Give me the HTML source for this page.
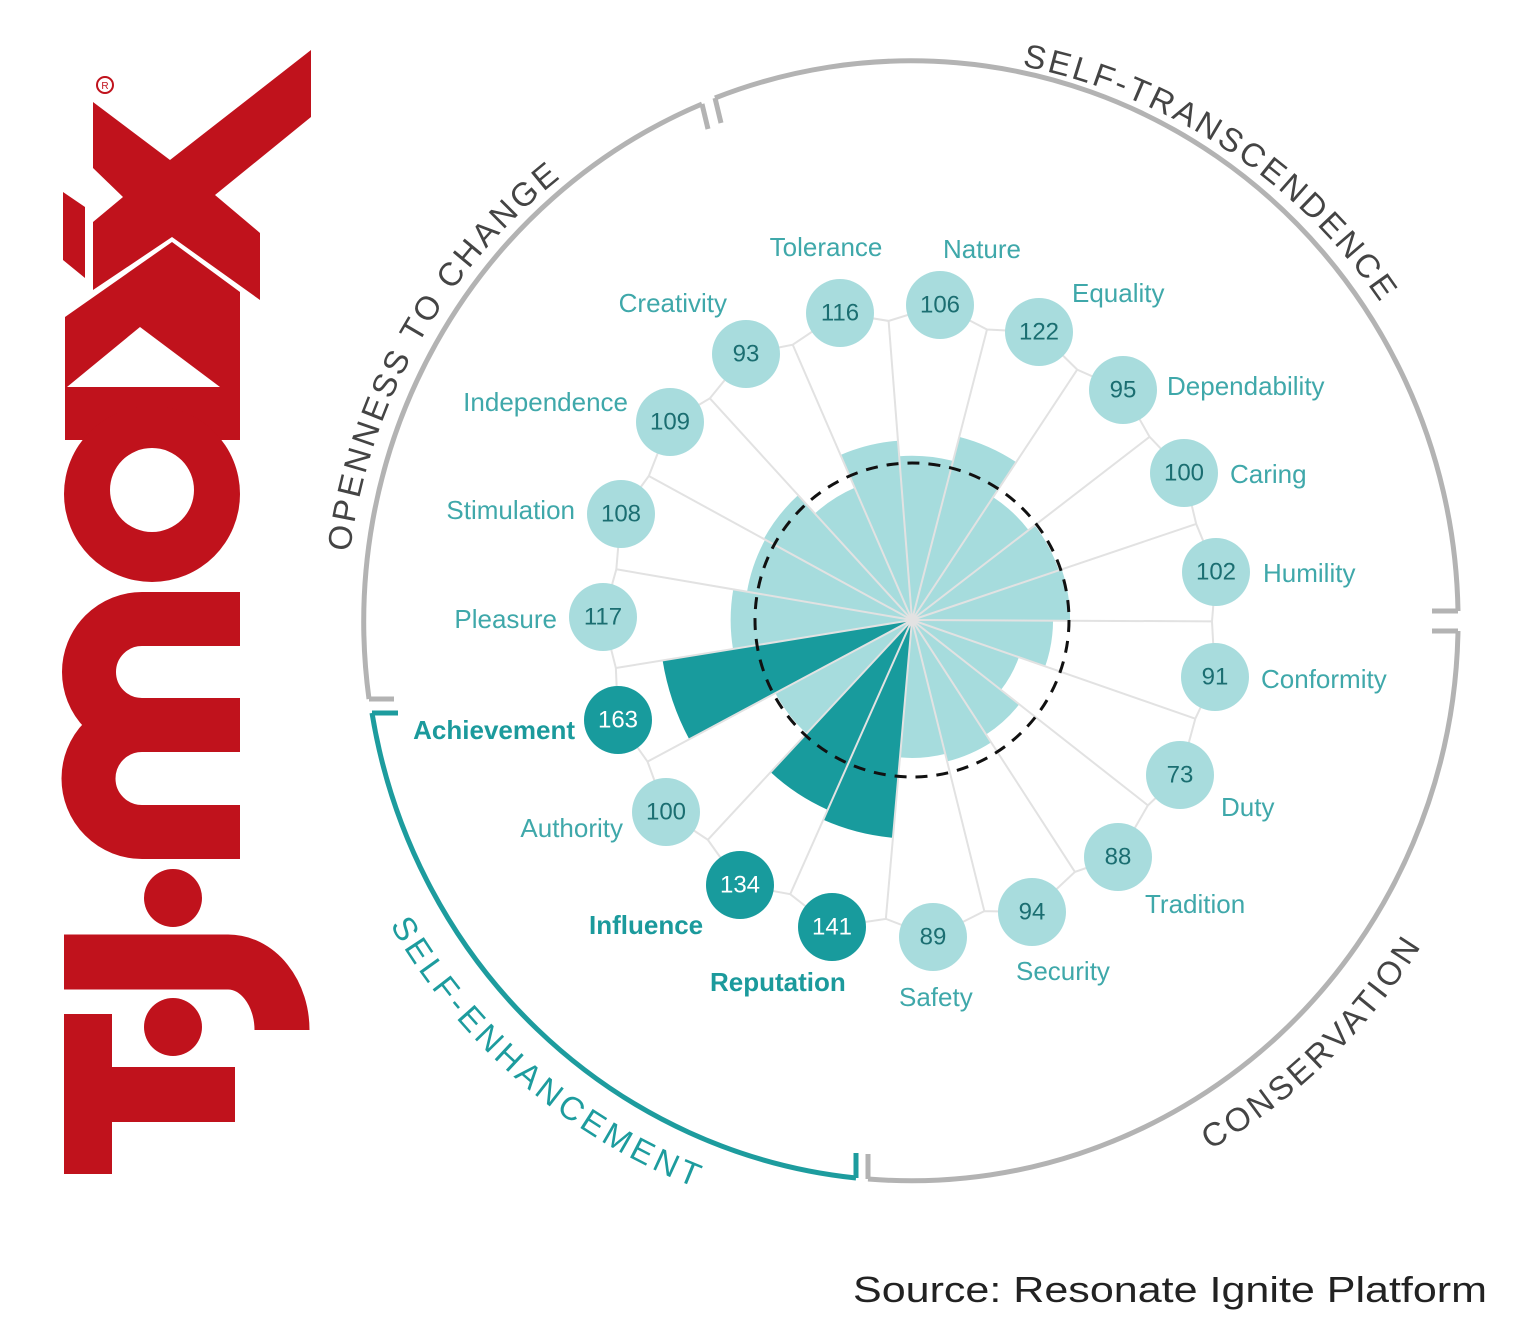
<!DOCTYPE html>
<html><head><meta charset="utf-8"><style>
html,body{margin:0;padding:0;background:#fff;}
svg{display:block;}
.lb{font-family:"Liberation Sans",sans-serif;font-size:26px;fill:#3fa8aa;dominant-baseline:central;}
.lbd{font-family:"Liberation Sans",sans-serif;font-size:26px;font-weight:bold;fill:#1b9a9c;dominant-baseline:central;}
.cat{font-family:"Liberation Sans",sans-serif;font-size:33px;fill:#444;}
.num{font-family:"Liberation Sans",sans-serif;font-size:24px;dominant-baseline:central;text-anchor:middle;}
</style></head><body>
<svg id="s" width="1529" height="1335" viewBox="0 0 1529 1335" xmlns="http://www.w3.org/2000/svg">
<rect width="1529" height="1335" fill="#fff"/>
<g fill="#c0121c">
<polygon points="93,102 170,160 311,50 311,117 215,195 260,233 260,300 172,237 93,290 93,222 123,197 93,168"/>
<polygon points="63,192 85,207 85,278 63,260"/>
<polygon points="65,317 172,242 240,292 240,440 65,440"/>
<circle cx="152" cy="494" r="88"/>
<path d="M240 619 H142 A53 53 0 0 0 142 725 H240 M240 725 H142 A53 53 0 0 0 142 832 H240" fill="none" stroke="#c0121c" stroke-width="54"/>
<circle cx="173" cy="898" r="29"/>
<path d="M64 962 H228 A54 68 0 0 1 282 1030" fill="none" stroke="#c0121c" stroke-width="55"/>
<circle cx="173" cy="1027" r="29"/>
<rect x="64" y="1014" width="48" height="160"/>
<rect x="110" y="1067" width="125" height="55"/>
</g>
<polygon points="67,387 140,327 220,387" fill="#fff"/>
<circle cx="152" cy="490" r="42" fill="#fff"/>
<circle cx="105" cy="85" r="8" fill="none" stroke="#c0121c" stroke-width="2"/>
<text x="105" y="89" font-family="Liberation Sans,sans-serif" font-size="10" fill="#c0121c" text-anchor="middle">R</text>

<g fill="none" stroke="#b3b3b3" stroke-width="5">
<path d="M369 699 A547 560 0 0 1 702 104"/>
<path d="M715 98 A547 560 0 0 1 1458 611"/>
<path d="M1458 631 A547 560 0 0 1 868 1179"/>
<path d="M702 104 L708 129"/><path d="M715 98 L721 123"/>
<path d="M1458 611 L1432 611"/><path d="M1458 631 L1432 631"/>
<path d="M868 1179 L868 1154"/>
<path d="M369 699 L394 699"/>
</g>
<g fill="none" stroke="#1d9c9e" stroke-width="5">
<path d="M372 713 A547 560 0 0 0 856 1178"/>
<path d="M372 713 L398 713"/><path d="M856 1178 L856 1153"/>
</g>
<defs>
<path id="p1" d="M350 552 A565 565 0 0 1 571 170"/>
<path id="p2" d="M1022 66 A566 566 0 0 1 1382 305"/>
<path id="p3" d="M1210 1150 A605 605 0 0 0 1425 940"/>
<path id="p4" d="M390 925 A605 605 0 0 0 702 1190"/>
</defs>
<text class="cat"><textPath href="#p1" textLength="440" lengthAdjust="spacing">OPENNESS TO CHANGE</textPath></text>
<text class="cat"><textPath href="#p2" textLength="440" lengthAdjust="spacing">SELF-TRANSCENDENCE</textPath></text>
<text class="cat"><textPath href="#p3" textLength="296" lengthAdjust="spacing">CONSERVATION</textPath></text>
<text class="cat" style="fill:#1d9c9e"><textPath href="#p4" textLength="410" lengthAdjust="spacing">SELF-ENHANCEMENT</textPath></text>

<g id="chart"></g>
<circle cx="912" cy="620" r="157" fill="none" stroke="#111" stroke-width="3" stroke-dasharray="12 9"/>
<g id="circles"></g>

<text class="lb" x="826" y="247" text-anchor="middle">Tolerance</text>
<text class="lb" x="982" y="249" text-anchor="middle">Nature</text>
<text class="lb" x="1072" y="293">Equality</text>
<text class="lb" x="1167" y="386">Dependability</text>
<text class="lb" x="1230" y="474">Caring</text>
<text class="lb" x="1263" y="573">Humility</text>
<text class="lb" x="1261" y="679">Conformity</text>
<text class="lb" x="1221" y="807">Duty</text>
<text class="lb" x="1145" y="904">Tradition</text>
<text class="lb" x="1016" y="971">Security</text>
<text class="lb" x="899" y="997">Safety</text>
<text class="lbd" x="710" y="982">Reputation</text>
<text class="lbd" x="589" y="925">Influence</text>
<text class="lb" x="623" y="828" text-anchor="end">Authority</text>
<text class="lbd" x="575" y="730" text-anchor="end">Achievement</text>
<text class="lb" x="557" y="619" text-anchor="end">Pleasure</text>
<text class="lb" x="575" y="510" text-anchor="end">Stimulation</text>
<text class="lb" x="628" y="402" text-anchor="end">Independence</text>
<text class="lb" x="727" y="303" text-anchor="end">Creativity</text>

<g id="nums">
<text class="num" x="940" y="305" fill="#1b6e71">106</text>
<text class="num" x="1039" y="332" fill="#1b6e71">122</text>
<text class="num" x="1123" y="390" fill="#1b6e71">95</text>
<text class="num" x="1184" y="473" fill="#1b6e71">100</text>
<text class="num" x="1216" y="572" fill="#1b6e71">102</text>
<text class="num" x="1215" y="677" fill="#1b6e71">91</text>
<text class="num" x="1180" y="775" fill="#1b6e71">73</text>
<text class="num" x="1118" y="857" fill="#1b6e71">88</text>
<text class="num" x="1032" y="912" fill="#1b6e71">94</text>
<text class="num" x="933" y="937" fill="#1b6e71">89</text>
<text class="num" x="832" y="927" fill="#fff">141</text>
<text class="num" x="740" y="885" fill="#fff">134</text>
<text class="num" x="666" y="812" fill="#1b6e71">100</text>
<text class="num" x="618" y="720" fill="#fff">163</text>
<text class="num" x="603" y="617" fill="#1b6e71">117</text>
<text class="num" x="621" y="514" fill="#1b6e71">108</text>
<text class="num" x="670" y="422" fill="#1b6e71">109</text>
<text class="num" x="746" y="354" fill="#1b6e71">93</text>
<text class="num" x="840" y="313" fill="#1b6e71">116</text>
</g>

<text x="853" y="1302" font-family="Liberation Sans,sans-serif" font-size="36" fill="#222" textLength="634" lengthAdjust="spacingAndGlyphs">Source: Resonate Ignite Platform</text>
</svg>
<script>
(function(){
var NS="http://www.w3.org/2000/svg";
var cx=912,cy=620;
var vals=[106,122,95,100,102,91,73,88,94,89,141,134,100,163,117,108,109,93,116];
var dark=[10,11,13];
var pos=[[940,305],[1039,332],[1123,390],[1184,473],[1216,572],[1215,677],[1180,775],[1118,857],[1032,912],[933,937],[832,927],[740,885],[666,812],[618,720],[603,617],[621,514],[670,422],[746,354],[840,313]];
var step=360/19;
function P(r,t){var a=t*Math.PI/180;return [cx+r*Math.sin(a),cy-r*Math.cos(a)];}
var g=document.getElementById('chart'),gc=document.getElementById('circles');
for(var k=0;k<19;k++){
 var th=5+step*k,r=vals[k]*1.55;
 var a=P(r,th-step/2),b=P(r,th+step/2);
 var p=document.createElementNS(NS,'path');
 p.setAttribute('d','M'+cx+' '+cy+' L'+a[0]+' '+a[1]+' A'+r+' '+r+' 0 0 1 '+b[0]+' '+b[1]+' Z');
 p.setAttribute('fill',dark.indexOf(k)>=0?'#189b9d':'#a6dcdd');
 g.appendChild(p);
}
for(var k=0;k<19;k++){
 var th=5+step*k+step/2;
 var j=P(300,th);
 var l=document.createElementNS(NS,'path');
 var c1=pos[k],c2=pos[(k+1)%19];
 l.setAttribute('d','M'+cx+' '+cy+' L'+j[0]+' '+j[1]+' M'+c1[0]+' '+c1[1]+' L'+j[0]+' '+j[1]+' L'+c2[0]+' '+c2[1]);
 l.setAttribute('stroke','#e2e2e2');l.setAttribute('stroke-width','2');l.setAttribute('fill','none');
 g.appendChild(l);
}
for(var k=0;k<19;k++){
 var c=document.createElementNS(NS,'circle');
 c.setAttribute('cx',pos[k][0]);c.setAttribute('cy',pos[k][1]);c.setAttribute('r',34);
 c.setAttribute('fill',dark.indexOf(k)>=0?'#189b9d':'#a8dcdd');
 gc.appendChild(c);
}
})();
</script>
</body></html>
